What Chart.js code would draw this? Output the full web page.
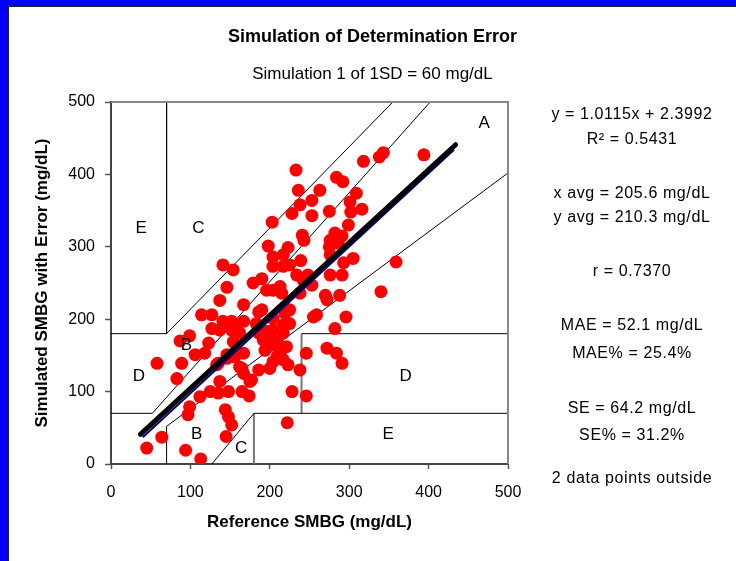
<!DOCTYPE html>
<html>
<head>
<meta charset="utf-8">
<style>
  body { margin: 0; background: #fff; }
  #frame { position: absolute; left: 0; top: 0; width: 736px; height: 561px; background: #0000ff; }
  #sheet { position: absolute; left: 8px; top: 6px; width: 727px; height: 554px; background: #fff;
           border-left: 1px solid #222; border-top: 1px solid #222; }
  canvas { display: block; }
</style>
</head>
<body>
<div id="frame"><div id="sheet"><canvas id="grid-chart" width="727" height="554"></canvas></div></div>
<script src="https://cdn.jsdelivr.net/npm/chart.js"></script>
<script>
    // reference value (x) and simulated value with error (y), mg/dL
    var refSMBG = [
        45, 64, 58, 89, 83, 87, 99, 106, 123, 94,
        113, 145, 152, 148, 144, 97, 99, 112, 125, 135,
        148, 165, 174, 177, 165, 167, 146, 135, 137, 186,
        200, 204, 223, 209, 194, 202, 221, 196, 204, 225,
        219, 190, 183, 167, 158, 141, 127, 127, 137, 152,
        162, 146, 137, 167, 179, 204, 215, 222, 228, 238,
        246, 246, 255, 141, 154, 114, 118, 133, 146, 186,
        186, 233, 236, 263, 253, 238, 228, 253, 275, 203,
        284, 292, 318, 309, 301, 316, 302, 299, 241, 243,
        198, 223, 204, 217, 239, 276, 282, 291, 275, 286,
        276, 293, 305, 217, 190, 204, 213, 196, 234, 242,
        248, 276, 291, 238, 270, 288, 272, 225, 152, 204,
        217, 196, 217, 192, 209, 213, 217, 162, 167, 175,
        259, 282, 296, 272, 284, 291, 154, 156, 338, 343,
        394, 359, 340, 225, 253
    ];
    var simSMBG = [
        22, 37, 139, 139, 118, 170, 177, 151, 167, 19,
        7, 38, 54, 65, 75, 68, 79, 93, 100, 98,
        100, 100, 94, 116, 132, 153, 151, 139, 114, 130,
        132, 141, 137, 148, 157, 164, 162, 174, 185, 194,
        208, 213, 194, 197, 192, 197, 206, 187, 185, 185,
        181, 244, 226, 220, 250, 240, 236, 57, 100, 130,
        153, 94, 203, 275, 268, 206, 153, 137, 146, 181,
        210, 406, 378, 378, 364, 358, 346, 343, 349, 334,
        396, 390, 418, 374, 362, 352, 348, 330, 316, 309,
        301, 299, 286, 289, 281, 309, 319, 315, 300, 305,
        289, 278, 284, 273, 256, 273, 245, 240, 261, 254,
        261, 261, 261, 236, 233, 233, 227, 213, 197, 201,
        192, 183, 181, 171, 169, 153, 144, 134, 125, 114,
        206, 187, 203, 160, 153, 139, 169, 148, 424, 430,
        427, 279, 238, 275, 247
    ];

    // 误差网格分区线 (x, y 成对)
    var thinZoneLines = [
        [[70, 500], [70, 180], [0, 180]],
        [[70, 180], [355, 500]],
        [[0, 70], [52, 70], [402, 500]],
        [[70, 0], [70, 52], [500, 402]],
        [[127, 0], [180, 70], [500, 70]],
        [[240, 180], [500, 180]]
    ];
    var thickZoneLines = [
        [[180, 0], [180, 70]],
        [[240, 70], [240, 180]]
    ];
    var fitLine = [[37, 41], [434, 441]];
    var fitLineBlue = [[40, 37], [432, 434]];

    var zoneLetters = ['A', 'E', 'C', 'B', 'D', 'D', 'B', 'C', 'E'];
    var zoneLetterX = [470, 38, 110, 95, 35, 371, 108, 164, 349];
    var zoneLetterY = [470, 326, 326, 164, 121, 121, 41, 22, 41];

    var axisTicks = [0, 100, 200, 300, 400, 500];

    var statLines = ['y = 1.0115x + 2.3992', 'R\u00b2 = 0.5431', 'x avg = 205.6 mg/dL', 'y avg = 210.3 mg/dL',
        'r = 0.7370', 'MAE = 52.1 mg/dL', 'MAE% = 25.4%', 'SE = 64.2 mg/dL', 'SE% = 31.2%', '2 data points outside'];
    var statY = [108, 133, 187, 211, 265, 319, 347, 402, 429, 472];

    Chart.defaults.font.family = '"Liberation Sans", Arial, sans-serif';
    Chart.defaults.color = '#000';

    function toPoints(arr) {
        return arr.map(function(p) { return { x: p[0], y: p[1] }; });
    }

    var datasets = [];
    // 回归线 (最上层)
    datasets.push({ data: toPoints(fitLine), showLine: true, borderColor: '#000', borderWidth: 5,
        pointRadius: 0, borderCapStyle: 'round', order: 0 });
    datasets.push({ data: toPoints(fitLineBlue), showLine: true, borderColor: '#000080', borderWidth: 2,
        pointRadius: 0, order: 1 });
    // 数据点
    datasets.push({
        data: refSMBG.map(function(v, i) { return { x: v, y: simSMBG[i] }; }),
        backgroundColor: '#ff0000', borderWidth: 0, pointRadius: 6.5, order: 2
    });
    thinZoneLines.forEach(function(seg) {
        datasets.push({ data: toPoints(seg), showLine: true, borderColor: '#000', borderWidth: 1,
            pointRadius: 0, tension: 0, order: 3 });
    });
    thickZoneLines.forEach(function(seg) {
        datasets.push({ data: toPoints(seg), showLine: true, borderColor: '#777', borderWidth: 2,
            pointRadius: 0, order: 3 });
    });

    // 分区字母、外框和右侧统计文字
    var extras = {
        id: 'extras',
        afterDatasetsDraw: function(chart) {
            var ctx = chart.ctx, a = chart.chartArea;
            var xs = chart.scales.x, ys = chart.scales.y;
            ctx.save();
            ctx.strokeStyle = '#888';
            ctx.lineWidth = 2;
            ctx.beginPath();
            ctx.moveTo(a.left, a.top);
            ctx.lineTo(a.right, a.top);
            ctx.lineTo(a.right, a.bottom);
            ctx.stroke();
            ctx.fillStyle = '#000';
            ctx.textAlign = 'center';
            ctx.textBaseline = 'middle';
            ctx.font = '17px "Liberation Sans", Arial, sans-serif';
            zoneLetters.forEach(function(t, i) {
                ctx.fillText(t, xs.getPixelForValue(zoneLetterX[i]), ys.getPixelForValue(zoneLetterY[i]));
            });
            ctx.font = '16px "Liberation Sans", Arial, sans-serif';
            if ('letterSpacing' in ctx) ctx.letterSpacing = '0.6px';
            statLines.forEach(function(t, i) {
                ctx.fillText(t, 623, statY[i]);
            });
            ctx.restore();
        }
    };

    var ctx = document.getElementById('grid-chart').getContext('2d');
    var myChart = new Chart(ctx, {
        type: 'scatter',
        data: { datasets: datasets },
        options: {
            responsive: false,
            animation: false,
            events: [],
            layout: { padding: { left: 0, right: 0, top: 0, bottom: 22 } },
            plugins: {
                legend: { display: false },
                tooltip: { enabled: false },
                title: {
                    display: true,
                    text: 'Simulation of Determination Error',
                    color: '#000',
                    font: { size: 18, weight: 'bold' },
                    padding: { top: 19, bottom: 17 }
                },
                subtitle: {
                    display: true,
                    text: 'Simulation 1 of 1SD = 60 mg/dL',
                    color: '#000',
                    font: { size: 17 },
                    padding: { top: 0, bottom: 17 }
                }
            },
            scales: {
                x: {
                    type: 'linear',
                    min: 0, max: 500,
                    afterBuildTicks: function(s) { s.ticks = axisTicks.map(function(v) { return { value: v }; }); },
                    afterFit: function(s) { s.height = 75; },
                    grid: { drawOnChartArea: false, tickLength: 5, tickColor: '#555', tickWidth: 1.5 },
                    border: { color: '#444', width: 2 },
                    ticks: { font: { size: 16 }, color: '#000', padding: 14, maxRotation: 0 },
                    title: {
                        display: true, text: 'Reference SMBG (mg/dL)', color: '#000',
                        font: { size: 17, weight: 'bold' }, padding: { top: 0, bottom: 6 }
                    }
                },
                y: {
                    type: 'linear',
                    min: 0, max: 500,
                    afterBuildTicks: function(s) { s.ticks = axisTicks.map(function(v) { return { value: v }; }); },
                    afterFit: function(s) { s.width = 102; },
                    grid: { drawOnChartArea: false, tickLength: 6, tickColor: '#555', tickWidth: 1.5 },
                    border: { color: '#444', width: 2 },
                    ticks: { font: { size: 16 }, color: '#000', padding: 10 },
                    title: {
                        display: true, text: 'Simulated SMBG with Error (mg/dL)', color: '#000',
                        font: { size: 17, weight: 'bold' }, padding: { top: 23, bottom: 0 }
                    }
                },
                y2: {
                    type: 'linear',
                    position: 'right',
                    grid: { display: false, drawTicks: false },
                    border: { display: false },
                    ticks: { display: false },
                    afterFit: function(s) { s.width = 228; }
                }
            }
        },
        plugins: [extras]
    });
</script>
</body>
</html>
